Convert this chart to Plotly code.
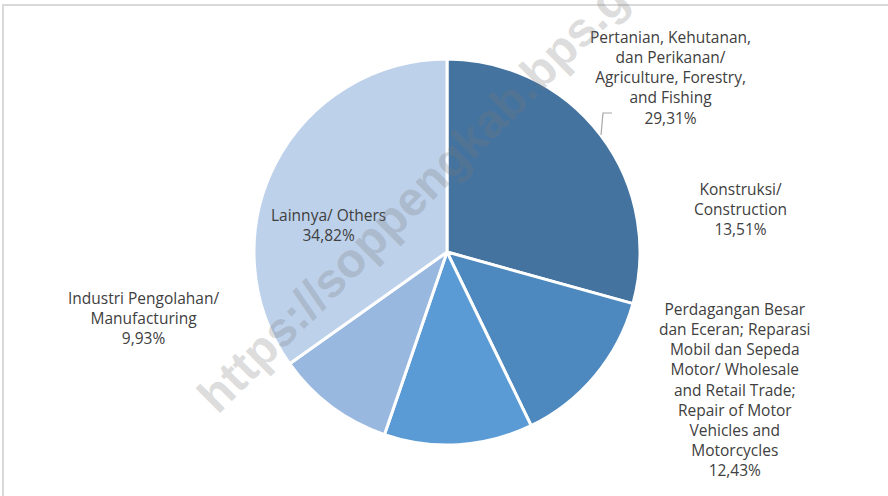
import plotly.graph_objects as go

labels = [
    "Pertanian, Kehutanan,<br>dan Perikanan/<br>Agriculture, Forestry,<br>and Fishing",
    "Konstruksi/<br>Construction",
    "Perdagangan Besar<br>dan Eceran; Reparasi<br>Mobil dan Sepeda<br>Motor/ Wholesale<br>and Retail Trade;<br>Repair of Motor<br>Vehicles and<br>Motorcycles",
    "Industri Pengolahan/<br>Manufacturing",
    "Lainnya/ Others",
]
shares = [29.31, 13.51, 12.43, 9.93, 34.82]
colors = ["#44739f", "#4d89be", "#5b9bd5", "#98b8df", "#bdd1ea"]

W, H = 888, 496

def px(x, y):
    return x / W, 1 - y / H

# label centres in pixels (layout only)
label_pos = [(670, 77), (740, 209), (735, 389), (143, 318), (328, 225)]

fig = go.Figure()
fig.add_trace(go.Pie(
    labels=labels,
    values=shares,
    sort=False,
    direction="clockwise",
    rotation=0,
    textinfo="none",
    hoverinfo="label+percent",
    marker=dict(colors=colors, line=dict(color="white", width=3)),
    domain=dict(x=[254 / W, 640 / W], y=[1 - 445 / H, 1 - 59 / H]),
    showlegend=False,
))

annotations = []
for lab, val, (x, y) in zip(labels, shares, label_pos):
    ax, ay = px(x, y)
    annotations.append(dict(
        x=ax, y=ay, xref="paper", yref="paper",
        text=lab + "<br>" + f"{val:.2f}".replace(".", ",") + "%",
        showarrow=False, align="center",
        font=dict(family="Open Sans", size=15.5, color="#404040"),
        xanchor="center", yanchor="middle",
    ))

# watermark
wx, wy = px(442, 167)
annotations.append(dict(
    x=wx, y=wy, xref="paper", yref="paper",
    text="<b>https://soppengkab.bps.go.id</b>",
    showarrow=False, textangle=-45,
    font=dict(family="Liberation Sans", size=48, color="rgba(120,120,120,0.27)"),
    xanchor="center", yanchor="middle",
))

x0, y0 = px(3, 5)
lx0, ly0 = px(601, 135)
lx1, ly1 = px(603, 113)
lx2, ly2 = px(612, 113)
shapes = [
    dict(type="rect", xref="paper", yref="paper", x0=x0, y0=-0.05, x1=1.05, y1=y0,
         line=dict(color="#d9d9d9", width=2), fillcolor="rgba(0,0,0,0)"),
    dict(type="path", xref="paper", yref="paper",
         path=f"M {lx0} {ly0} L {lx1} {ly1} L {lx2} {ly2}",
         line=dict(color="#a6a6a6", width=1.2)),
]

fig.update_layout(
    width=W, height=H,
    margin=dict(l=0, r=0, t=0, b=0),
    paper_bgcolor="white",
    plot_bgcolor="white",
    annotations=annotations,
    shapes=shapes,
)

fig.write_html("out.html", config={"displayModeBar": False},
               post_script="document.body.style.margin='0';")
